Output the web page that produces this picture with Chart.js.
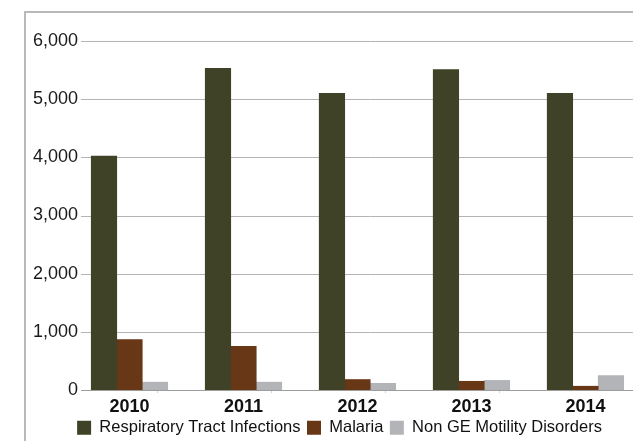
<!DOCTYPE html>
<html>
<head>
<meta charset="utf-8">
<script src="https://cdn.jsdelivr.net/npm/chart.js@4/dist/chart.umd.min.js"></script>
<style>
  html, body { margin: 0; padding: 0; background: #fff; overflow: hidden; width: 633px; height: 441px; }
  #wrap { position: relative; width: 660px; height: 446px; }
  #frame { position: absolute; left: 24px; top: 11px; width: 700px; height: 500px;
           border-left: 2px solid #b9b9b9; border-top: 2px solid #b9b9b9; }
  canvas { position: absolute; left: 0; top: 0; }
</style>
</head>
<body>
<div id="wrap">
  <div id="frame"></div>
  <canvas id="chart" width="660" height="446"></canvas>
</div>
<script>
const years = ['2010', '2011', '2012', '2013', '2014'];
const respiratory = [4020, 5530, 5100, 5510, 5100];
const malaria = [865, 750, 180, 150, 65];
const motility = [135, 135, 115, 165, 248];
const yTicks = [0, 1000, 2000, 3000, 4000, 5000, 6000];

const toPoints = arr => arr.map((v, i) => ({ x: i, y: v }));

// horizontal gridlines, start a bit right of the plot edge like the original
const gridPlugin = {
  id: 'hgrid',
  beforeDatasetsDraw(chart) {
    const y = chart.scales.y;
    const ctx = chart.ctx;
    ctx.save();
    ctx.lineWidth = 1;
    y.ticks.forEach(t => {
      const py = Math.round(y.getPixelForValue(t.value)) + 0.5;
      ctx.strokeStyle = t.value === 0 ? '#9c9c9c' : '#b4b4b4';
      ctx.beginPath();
      ctx.moveTo(81, py);
      ctx.lineTo(chart.width, py);
      ctx.stroke();
    });
    ctx.restore();
  }
};

const ctx = document.getElementById('chart').getContext('2d');
new Chart(ctx, {
  type: 'bar',
  data: {
    datasets: [
      { label: 'Respiratory Tract Infections', data: toPoints(respiratory), backgroundColor: '#3f4227' },
      { label: 'Malaria', data: toPoints(malaria), backgroundColor: '#683716' },
      { label: 'Non GE Motility Disorders', data: toPoints(motility), backgroundColor: '#b2b4b7' }
    ]
  },
  options: {
    responsive: false,
    animation: false,
    layout: { padding: { left: 28, right: 9, top: 41, bottom: 0 } },
    datasets: {
      bar: { barThickness: 25.5 }
    },
    scales: {
      x: {
        type: 'linear',
        offset: false,
        min: -0.443,
        max: 4.575,
        afterBuildTicks(scale) {
          const t = [];
          years.forEach((yr, i) => { t.push({ value: i }); if (i < years.length - 1) t.push({ value: i + 0.5 }); });
          scale.ticks = t;
        },
        afterFit(scale) { scale.height = 23; },
        grid: {
          drawOnChartArea: false,
          drawTicks: true,
          tickLength: 3,
          color: c => (c.tick && c.tick.value % 1 !== 0) ? '#d0d0d0' : 'rgba(0,0,0,0)'
        },
        border: { display: false },
        ticks: {
          autoSkip: false,
          maxRotation: 0,
          color: '#111',
          padding: 5.5,
          font: { family: 'Liberation Sans, Arial', size: 18, weight: 'bold', lineHeight: 0.9 },
          callback: v => (v % 1 === 0 ? years[v] : '')
        }
      },
      y: {
        min: 0,
        max: 6000,
        afterBuildTicks(scale) { scale.ticks = yTicks.map(v => ({ value: v })); },
        afterFit(scale) { scale.width = 51; },
        grid: { display: false, drawTicks: false },
        border: { display: false },
        ticks: {
          color: '#1a1a1a',
          padding: 1,
          font: { family: 'Liberation Sans, Arial', size: 18 },
          callback: v => v.toLocaleString('en-US')
        }
      }
    },
    plugins: {
      legend: {
        position: 'bottom',
        labels: {
          boxWidth: 14,
          boxHeight: 14,
          padding: 6.5,
          color: '#111',
          font: { family: 'Liberation Sans, Arial', size: 16.5, lineHeight: 0.8 }
        }
      },
      tooltip: { enabled: false }
    }
  },
  plugins: [gridPlugin]
});
</script>
</body>
</html>
